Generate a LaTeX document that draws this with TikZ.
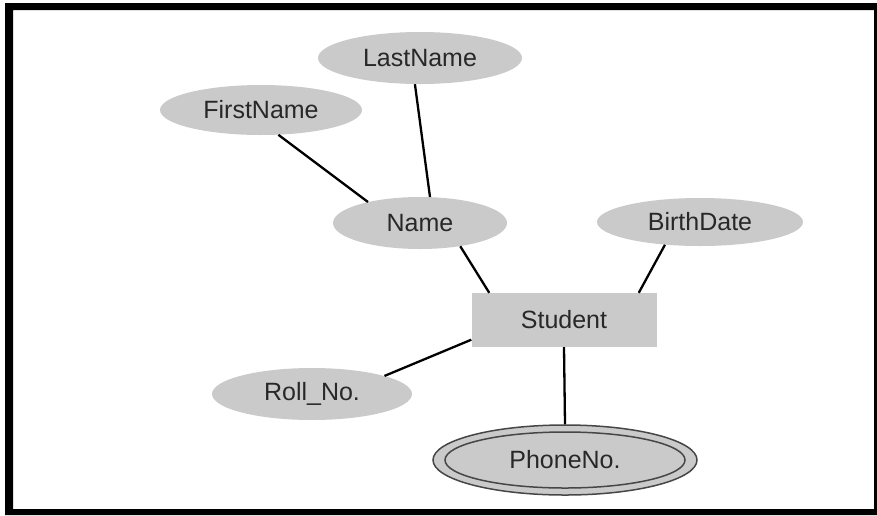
\documentclass[tikz,border=0pt]{standalone}
\usepackage{fontspec}
\setmainfont{Liberation Sans}
\usetikzlibrary{shapes.geometric}
\definecolor{attrfill}{RGB}{202,202,202}
\definecolor{txt}{RGB}{40,40,40}
\definecolor{ringc}{RGB}{70,70,70}
\begin{document}
\begin{tikzpicture}[x=1pt,y=-1pt,
  attr/.style={ellipse,fill=attrfill,inner sep=0pt,text=txt,font=\fontsize{25}{28}\selectfont},
  ent/.style={rectangle,fill=attrfill,inner sep=0pt,text=txt,font=\fontsize{25}{28}\selectfont,minimum width=185pt,minimum height=54pt},
  link/.style={line width=2.3pt,black}]
\useasboundingbox (0,0) rectangle (877,515);
% frame
\fill[black,even odd rule] (5,3) rectangle (877,515) (13,10) rectangle (874,509);
% nodes
\node[attr,minimum width=204pt,minimum height=52pt] (LastName) at (420,58) {LastName};
\node[attr,minimum width=202pt,minimum height=50pt] (FirstName) at (261,110) {FirstName};
\node[attr,minimum width=174pt,minimum height=52pt] (Name) at (420,223) {Name};
\node[attr,minimum width=206pt,minimum height=48pt] (BirthDate) at (700,222) {BirthDate};
\node[ent] (Student) at (564,320) {Student};
\node[attr,minimum width=200pt,minimum height=52pt] (Roll) at (312,394) {Roll\_No.};
\node[ellipse,fill=attrfill,draw=ringc,line width=1.5pt,inner sep=0pt,minimum width=264pt,minimum height=70pt] (PhoneNo) at (565,460) {};
\node[ellipse,draw=ringc,line width=1.5pt,inner sep=0pt,minimum width=240pt,minimum height=56pt,text=txt,font=\fontsize{25}{28}\selectfont] (PhoneNoIn) at (565,460) {PhoneNo.};
% connectors
\draw[link] (FirstName.-55) -- (Name.158);
\draw[link] (LastName.-101) -- (Name.69);
\draw[link] (Name.-30) -- (Student.160);
\draw[link] (BirthDate.-147) -- (Student.20);
\draw[link] (Student.192) -- (Roll.14);
\draw[link] (Student.south) -- (PhoneNo.north);
\end{tikzpicture}
\end{document}
